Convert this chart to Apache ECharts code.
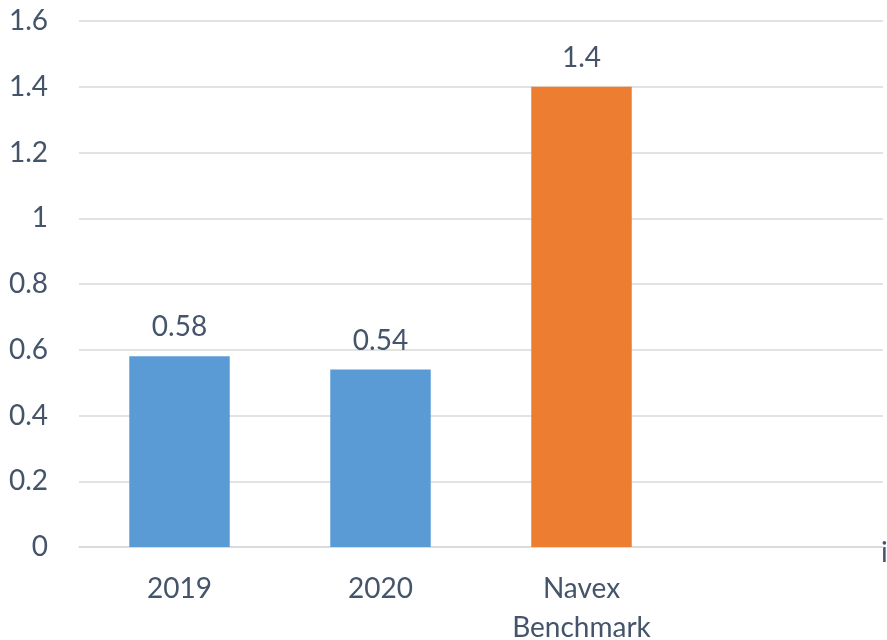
<!DOCTYPE html>
<html>
<head>
<meta charset="utf-8">
<script src="https://cdn.jsdelivr.net/npm/echarts@6/dist/echarts.min.js"></script>
<style>html,body{margin:0;padding:0;background:#fff}#c{width:887px;height:640px}</style>
</head>
<body>
<div id="c"></div>
<script>
const categories = ['2019', '2020', 'Navex\nBenchmark', ''];
const values = [0.58, 0.54, 1.4, null];
const barColors = ['#5B9BD5', '#5B9BD5', '#ED7D31', '#5B9BD5'];
const yTicks = [0, 0.2, 0.4, 0.6, 0.8, 1, 1.2, 1.4, 1.6];

const textColor = '#44546A';
const font = 'Lato';
const chart = echarts.init(document.getElementById('c'));
chart.setOption({
  animation: false,
  grid: { left: 79, right: 4, top: 21, bottom: 93, containLabel: false, outerBoundsMode: 'none' },
  xAxis: {
    type: 'category',
    data: categories,
    axisLine: { lineStyle: { color: '#D9D9D9', width: 1.5 } },
    axisTick: { show: false },
    axisLabel: { color: textColor, fontFamily: font, fontSize: 28, margin: 22, lineHeight: 39, interval: 0 }
  },
  yAxis: {
    type: 'value',
    min: yTicks[0],
    max: yTicks[yTicks.length - 1],
    interval: 0.2,
    axisLine: { show: false },
    axisTick: { show: false },
    splitLine: { lineStyle: { color: '#D9D9D9', width: 1.5 } },
    axisLabel: { color: textColor, fontFamily: font, fontSize: 28, margin: 31,
      formatter: v => String(Math.round(v * 10) / 10) }
  },
  series: [{
    type: 'bar',
    barCategoryGap: '50%',
    data: values.map((v, i) => ({ value: v, itemStyle: { color: barColors[i] } })),
    label: { show: true, position: 'top', distance: 15, color: textColor, fontFamily: font, fontSize: 28 }
  }],
  graphic: [{
    type: 'text', left: 881, top: 539,
    style: { text: 'i', fill: textColor, font: '28px Lato' }
  }]
});
</script>
</body>
</html>
